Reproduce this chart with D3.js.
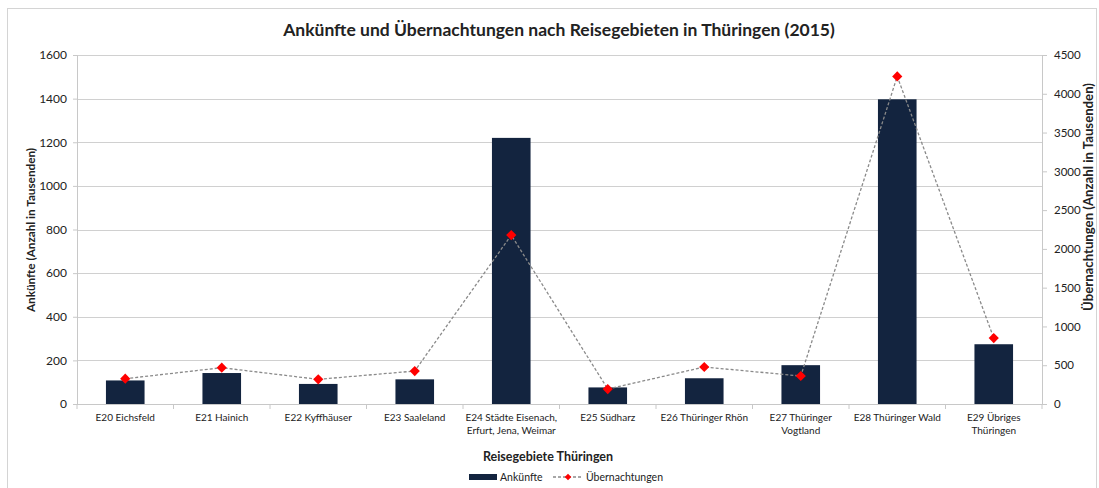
<!DOCTYPE html>
<html>
<head>
<meta charset="utf-8">
<script src="https://cdn.jsdelivr.net/npm/d3@7"></script>
<style>
  body { margin: 0; background: #fff; }
  text { font-family: Lato, "Open Sans", sans-serif; fill: #222; }
</style>
</head>
<body>
<svg id="chart" width="1099" height="488"></svg>
<script>
const categories = [
  "E20 Eichsfeld", "E21 Hainich", "E22 Kyffhäuser", "E23 Saaleland",
  "E24 Städte Eisenach,|Erfurt, Jena, Weimar", "E25 Südharz", "E26 Thüringer Rhön",
  "E27 Thüringer|Vogtland", "E28 Thüringer Wald", "E29 Übriges|Thüringen"
];
const ankuenfte = [108, 142, 92, 113, 1220, 76, 118, 178, 1397, 274];
const uebernachtungen = [326, 468, 318, 425, 2178, 193, 477, 361, 4224, 850];
const leftTicks = [0, 200, 400, 600, 800, 1000, 1200, 1400, 1600];
const rightTicks = [0, 500, 1000, 1500, 2000, 2500, 3000, 3500, 4000, 4500];

const svg = d3.select("#chart");
const m = { left: 77, right: 1042, top: 55, bottom: 404 };

// scale a text's font size so it spans roughly the wanted length
function fit(sel, len) {
  const fs = parseFloat(sel.attr("font-size"));
  const w = sel.node().getComputedTextLength();
  sel.attr("font-size", (fs * len / w).toFixed(2));
}

// outer frame
svg.append("rect")
  .attr("x", 7.5).attr("y", 8.5).attr("width", 1089).attr("height", 490)
  .attr("fill", "none").attr("stroke", "#d4d4d4");

const x = d3.scaleBand().domain(categories).range([m.left, m.right]);
const yL = d3.scaleLinear().domain([0, 1600]).range([m.bottom, m.top]);
const yR = d3.scaleLinear().domain([0, 4500]).range([m.bottom, m.top]);

// gridlines
svg.append("g").selectAll("line").data(leftTicks.slice(1)).join("line")
  .attr("x1", m.left).attr("x2", m.right)
  .attr("y1", d => Math.round(yL(d)) + 0.5).attr("y2", d => Math.round(yL(d)) + 0.5)
  .attr("stroke", "#d0d0d0");

// left axis
const gl = svg.append("g").attr("transform", `translate(${m.left},0)`)
  .call(d3.axisLeft(yL).tickValues(leftTicks).tickFormat(d3.format("d")).tickSize(4).tickPadding(6));
// right axis
const gr = svg.append("g").attr("transform", `translate(${m.right},0)`)
  .call(d3.axisRight(yR).tickValues(rightTicks).tickFormat(d3.format("d")).tickSize(5).tickPadding(7));
[gl, gr].forEach(g => {
  g.select(".domain").attr("stroke", "#c8c8c8");
  g.selectAll(".tick line").attr("stroke", "#c8c8c8");
  g.selectAll(".tick text").attr("font-size", 12).attr("fill", "#333")
    .attr("font-family", "Lato, sans-serif");
});
gr.selectAll(".tick text").attr("font-size", 11.5);

// bars
const bw = x.bandwidth() * 0.4;
svg.append("g").selectAll("rect").data(ankuenfte).join("rect")
  .attr("x", (d, i) => x(categories[i]) + (x.bandwidth() - bw) / 2)
  .attr("width", bw)
  .attr("y", d => yL(d))
  .attr("height", d => m.bottom - yL(d))
  .attr("fill", "#13243f");

// bottom axis
const gb = svg.append("g").attr("transform", `translate(0,${m.bottom})`);
gb.append("line").attr("x1", m.left).attr("x2", m.right).attr("y1", 0.5).attr("y2", 0.5)
  .attr("stroke", "#c8c8c8");
gb.selectAll("line.tk").data(d3.range(categories.length + 1)).join("line")
  .attr("class", "tk")
  .attr("x1", i => m.left + i * x.step()).attr("x2", i => m.left + i * x.step())
  .attr("y1", 0).attr("y2", 5).attr("stroke", "#c8c8c8");
const lbl = gb.selectAll("text.cat").data(categories).join("text")
  .attr("class", "cat")
  .attr("text-anchor", "middle")
  .attr("font-size", 10)
  .attr("fill", "#333")
  .attr("x", d => x(d) + x.bandwidth() / 2)
  .attr("y", 17);
lbl.each(function (d) {
  const parts = d.split("|");
  const t = d3.select(this);
  parts.forEach((p, k) => {
    t.append("tspan").attr("x", t.attr("x")).attr("dy", k === 0 ? 0 : 13).text(p);
  });
});

// line series
const cx = i => x(categories[i]) + x.bandwidth() / 2;
svg.append("path")
  .datum(uebernachtungen)
  .attr("d", d3.line().x((d, i) => cx(i)).y(d => yR(d)))
  .attr("fill", "none").attr("stroke", "#8a8a8a").attr("stroke-width", 1.3)
  .attr("stroke-dasharray", "3,2");
svg.append("g").selectAll("path").data(uebernachtungen).join("path")
  .attr("d", d3.symbol(d3.symbolSquare, 52))
  .attr("transform", (d, i) => `translate(${cx(i)},${yR(d)}) rotate(45)`)
  .attr("fill", "#ff0000");

// titles
svg.append("text").attr("x", 559).attr("y", 36).attr("text-anchor", "middle")
  .attr("font-size", 17.5).attr("font-weight", "bold").attr("fill", "#111")
  .text("Ankünfte und Übernachtungen nach Reisegebieten in Thüringen (2015)");
svg.append("text").attr("transform", "translate(35,230) rotate(-90)")
  .attr("text-anchor", "middle").attr("font-size", 11).attr("font-weight", "bold")
  .text("Ankünfte (Anzahl in Tausenden)")
  .call(fit, 164);
svg.append("text").attr("transform", "translate(1093,197) rotate(-90)")
  .attr("text-anchor", "middle").attr("font-size", 11).attr("font-weight", "bold")
  .text("Übernachtungen (Anzahl in Tausenden)")
  .call(fit, 228);
svg.append("text").attr("x", 548).attr("y", 461).attr("text-anchor", "middle")
  .attr("font-size", 12.5).attr("font-weight", "bold")
  .text("Reisegebiete Thüringen");

// legend
const lg = svg.append("g").attr("transform", "translate(469,478)");
lg.append("rect").attr("x", 0).attr("y", -4).attr("width", 28).attr("height", 6).attr("fill", "#13243f");
lg.append("text").attr("x", 31).attr("y", 3).attr("font-size", 10.5).attr("fill", "#333").text("Ankünfte");
lg.append("line").attr("x1", 84).attr("x2", 114).attr("y1", -1).attr("y2", -1)
  .attr("stroke", "#8a8a8a").attr("stroke-width", 1.3).attr("stroke-dasharray", "3,2");
lg.append("path").attr("d", d3.symbol(d3.symbolSquare, 22)).attr("transform", "translate(99,-1) rotate(45)").attr("fill", "#ff0000");
lg.append("text").attr("x", 117).attr("y", 3).attr("font-size", 10.5).attr("fill", "#333").text("Übernachtungen");
</script>
</body>
</html>
